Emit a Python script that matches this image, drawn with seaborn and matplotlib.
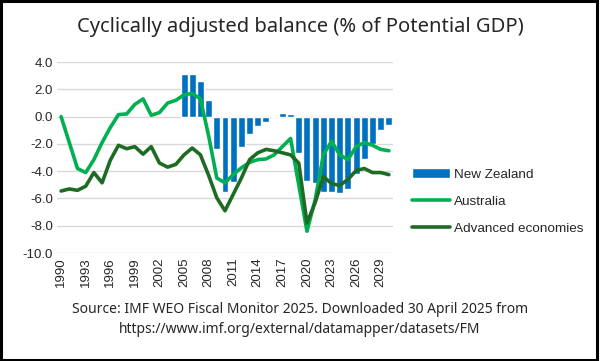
import numpy as np
import pandas as pd
import seaborn as sns
import matplotlib.pyplot as plt
from matplotlib.patches import Rectangle

# === data ===
years = list(range(1990, 2031))
nz = [np.nan] * 15 + [3.1, 3.15, 2.65, 1.25, -2.4, -5.5, -4.8, -2.2, -1.3, -0.7,
                      -0.4, 0.05, 0.3, 0.2, -2.7, -4.7, -4.9, -5.5, -5.5, -5.6,
                      -5.3, -4.2, -3.1, -2.0, -0.95, -0.6]
australia = [0.0, -1.9, -3.8, -4.1, -3.15, -1.9, -0.8, 0.15, 0.2, 0.9,
             1.3, 0.1, 0.3, 1.0, 1.2, 1.6, 1.7, 1.3, -1.4, -4.5,
             -4.85, -4.25, -3.75, -3.35, -3.15, -3.1, -2.8, -2.2, -1.6, -5.0,
             -8.4, -6.1, -2.8, -1.8, -2.8, -3.15, -2.2, -1.9, -2.1, -2.4, -2.5]
advanced = [-5.45, -5.3, -5.4, -5.1, -4.1, -4.85, -3.2, -2.1, -2.35, -2.2,
            -2.75, -2.2, -3.4, -3.7, -3.5, -2.8, -2.3, -2.8, -4.3, -5.95,
            -6.9, -5.7, -4.5, -3.15, -2.65, -2.4, -2.5, -2.65, -2.8, -3.4,
            -7.8, -6.3, -4.4, -4.9, -5.05, -4.6, -3.95, -3.8, -4.1, -4.1, -4.25]

df = pd.DataFrame({"Year": years, "New Zealand": nz,
                   "Australia": australia, "Advanced economies": advanced})

sns.set_theme(style="white")
plt.rcParams['font.family'] = ['Liberation Sans', 'DejaVu Sans']

fig = plt.figure(figsize=(6, 3.61), dpi=100)
ax = fig.add_axes([0.095, 0.299, 0.56, 0.529])

sns.barplot(data=df.dropna(subset=["New Zealand"]), x="Year", y="New Zealand",
            native_scale=True, color="#0070C0", saturation=1, width=0.85,
            label="New Zealand", ax=ax, zorder=2)
sns.lineplot(data=df, x="Year", y="Australia", color="#00B050", linewidth=2.6,
             label="Australia", ax=ax, zorder=3)
sns.lineplot(data=df, x="Year", y="Advanced economies", color="#1E6B24", linewidth=2.6,
             label="Advanced economies", ax=ax, zorder=4)

ax.set_xlim(1989.5, 2030.5)
ax.set_ylim(-10, 4)
ax.set_yticks(np.arange(-10, 4.1, 2))
ax.set_yticklabels([f"{v:.1f}" for v in np.arange(-10, 4.1, 2)], fontsize=9.5)
ax.set_xticks(years[::3])
ax.set_xticklabels([str(y) for y in years[::3]], rotation=90, fontsize=9.5)
ax.tick_params(axis="both", length=0, pad=3)
ax.yaxis.grid(True, color="#D9D9D9", linewidth=1)
ax.set_axisbelow(True)
for s in ax.spines.values():
    s.set_visible(False)
ax.set_xlabel("")
ax.set_ylabel("")

handles, labels = ax.get_legend_handles_labels()
order = [labels.index(n) for n in ["New Zealand", "Australia", "Advanced economies"]]
ax.legend([handles[i] for i in order], [labels[i] for i in order],
          loc="upper left", bbox_to_anchor=(1.04, 0.475), frameon=False,
          fontsize=9.7, handlelength=2.8, handleheight=0.85, labelspacing=1.05,
          handletextpad=0.3, borderaxespad=0)

fig.text(0.5, 0.925, "Cyclically adjusted balance (% of Potential GDP)",
         ha="center", va="center", fontsize=14.5, family=["Noto Sans", "DejaVu Sans"])
fig.text(0.5, 0.143, "Source: IMF WEO Fiscal Monitor 2025. Downloaded 30 April 2025 from",
         ha="center", va="center", fontsize=10, family=["Noto Sans", "DejaVu Sans"])
fig.text(0.5, 0.088, "https://www.imf.org/external/datamapper/datasets/FM",
         ha="center", va="center", fontsize=10, family=["Noto Sans", "DejaVu Sans"])

fig.patches.append(Rectangle((0.002, 0.004), 0.993, 0.992, transform=fig.transFigure,
                             fill=False, edgecolor="black", linewidth=2.2))

fig.savefig("out.png", dpi=100)
